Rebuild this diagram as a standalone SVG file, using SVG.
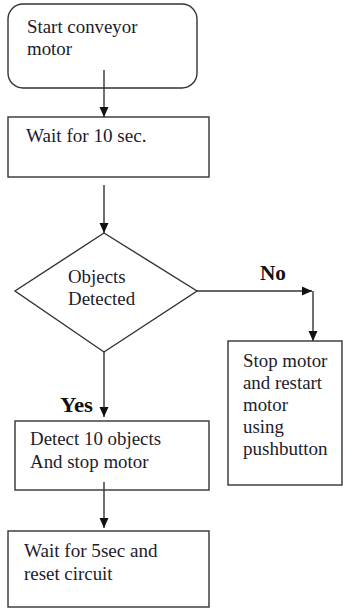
<svg xmlns="http://www.w3.org/2000/svg" width="343" height="609" viewBox="0 0 343 609">
<style>
.box{fill:#fff;stroke:#333;stroke-width:1.4}
.t{font-family:"Liberation Serif","Times New Roman",serif;font-size:19px;fill:#1c1c2c}
.b{font-family:"Liberation Serif","Times New Roman",serif;font-size:20px;font-weight:bold;fill:#111}
.c{fill:none;stroke:#333;stroke-width:1.4}
</style>
<defs>
<marker id="ah" markerUnits="userSpaceOnUse" markerWidth="10" markerHeight="10" refX="10" refY="5" orient="auto">
<path d="M0,0.5 L10,5 L0,9.5 z" fill="#111"/>
</marker>
</defs>
<rect width="343" height="609" fill="#fff"/>
<g id="start">
<rect class="box" x="8" y="4" width="189" height="84" rx="15"/>
<text class="t" x="27" y="33" textLength="110.5" lengthAdjust="spacingAndGlyphs">Start conveyor</text>
<text class="t" x="27" y="55" textLength="45" lengthAdjust="spacingAndGlyphs">motor</text>
</g>
<g id="wait10">
<rect class="box" x="8" y="117" width="201" height="60"/>
<text class="t" x="26" y="142" textLength="120.5" lengthAdjust="spacingAndGlyphs">Wait for 10 sec.</text>
</g>
<g id="decision">
<polygon class="box" points="104,233 197,291 104,352 15,291"/>
<text class="t" x="68" y="283" textLength="57.6" lengthAdjust="spacingAndGlyphs">Objects</text>
<text class="t" x="68" y="305" textLength="67.1" lengthAdjust="spacingAndGlyphs">Detected</text>
</g>
<g id="stop">
<rect class="box" x="228" y="341" width="114" height="144"/>
<text class="t" x="243" y="367" textLength="84.4" lengthAdjust="spacingAndGlyphs">Stop motor</text>
<text class="t" x="243" y="389" textLength="79.1" lengthAdjust="spacingAndGlyphs">and restart</text>
<text class="t" x="243" y="411" textLength="45" lengthAdjust="spacingAndGlyphs">motor</text>
<text class="t" x="243" y="433" textLength="40.9" lengthAdjust="spacingAndGlyphs">using</text>
<text class="t" x="243" y="455" textLength="84.5" lengthAdjust="spacingAndGlyphs">pushbutton</text>
</g>
<g id="detect">
<rect class="box" x="15" y="421" width="194" height="69"/>
<text class="t" x="30" y="445" textLength="131" lengthAdjust="spacingAndGlyphs">Detect 10 objects</text>
<text class="t" x="30" y="468" textLength="118.5" lengthAdjust="spacingAndGlyphs">And stop motor</text>
</g>
<g id="wait5">
<rect class="box" x="8" y="531" width="201" height="76"/>
<text class="t" x="24" y="557" textLength="133.6" lengthAdjust="spacingAndGlyphs">Wait for 5sec and</text>
<text class="t" x="24" y="580" textLength="88.6" lengthAdjust="spacingAndGlyphs">reset circuit</text>
</g>
<g id="connectors">
<path class="c" d="M104,70 V117" marker-end="url(#ah)"/>
<path class="c" d="M104,185 V233" marker-end="url(#ah)"/>
<path class="c" d="M197,291 H312" marker-end="url(#ah)"/>
<path class="c" d="M313,291 V341" marker-end="url(#ah)"/>
<path class="c" d="M104,352 V417" marker-end="url(#ah)"/>
<path class="c" d="M104,482 V528" marker-end="url(#ah)"/>
<text class="b" x="260" y="280" textLength="26" lengthAdjust="spacingAndGlyphs">No</text>
<text class="b" x="60" y="412" textLength="33" lengthAdjust="spacingAndGlyphs">Yes</text>
</g>
</svg>
